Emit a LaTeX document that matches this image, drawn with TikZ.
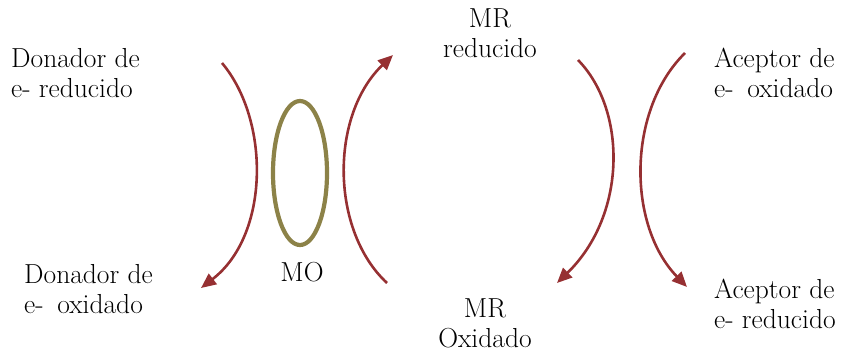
\documentclass[tikz,border=0pt]{standalone}
\usepackage{tikz}
\usepackage{xcolor}
\usetikzlibrary{positioning,arrows.meta,calc}
\definecolor{mrred}{RGB}{150,48,50}
\definecolor{moolive}{RGB}{140,130,72}
\tikzset{
  lbl/.style={inner sep=0pt, align=left, font=\fontsize{27.5}{30}\selectfont},
  lblc/.style={inner sep=0pt, align=center, font=\fontsize{27.5}{30}\selectfont},
  flow/.style={-{Triangle[length=15pt,width=13pt]}, line width=2.6pt, mrred},
  ring/.style={draw=moolive, line width=4.2pt}
}
\begin{document}
\begin{tikzpicture}[x=1pt,y=-1pt]
        \useasboundingbox (0,0) rectangle (849,354);
        \node[lbl, anchor=west] (donred) at (11,73) {Donador de\\e- reducido};
        \node[lbl, anchor=west] (donox) at (24,289) {Donador de\\e-\enspace oxidado};
        \node[lblc] (mo) at (302,272) {MO};
        \node[lblc] (mrred) at (490,33) {MR\\reducido};
        \node[lblc] (mrox) at (485,323) {MR\\Oxidado};
        \node[lbl, anchor=west] (accox) at (714,73) {Aceptor de\\e-\enspace oxidado};
        \node[lbl, anchor=west] (accred) at (714,304) {Aceptor de\\e- reducido};
        \draw[ring] (300,173) ellipse [x radius=27, y radius=72];
        % end points of the four arcs
        \coordinate (a1) at (222,63);  \coordinate (b1) at (201,288);
        \coordinate (a2) at (387,283); \coordinate (b2) at (393,55);
        \coordinate (a3) at (578,60);  \coordinate (b3) at (557,283);
        \coordinate (a4) at (685,53);  \coordinate (b4) at (687,287);
        \draw[flow] (a1) .. controls (270,120) and (270,235) .. (b1);
        \draw[flow] (a2) .. controls (330,230) and (330,115) .. (b2);
        \draw[flow] (a3) .. controls (627,110) and (627,215) .. (b3);
        \draw[flow] (a4) .. controls (627,110) and (627,225) .. (b4);
      \end{tikzpicture}
\end{document}
